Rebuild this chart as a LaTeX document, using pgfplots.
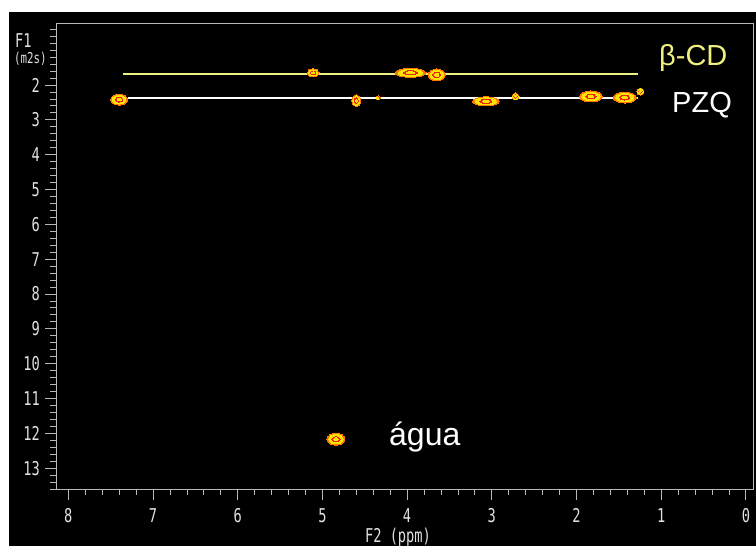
\documentclass[border=0pt]{standalone}
\usepackage{pgfplots}
\pgfplotsset{compat=1.18}
\usepackage{pgfplotstable}
\usepackage{fontspec}
\setmainfont{Liberation Sans}
\newfontfamily\tickfont[FakeStretch=0.72]{DejaVu Sans Mono}
\definecolor{framegray}{RGB}{185,185,185}
\definecolor{labgray}{RGB}{225,225,225}
\definecolor{cdyellow}{RGB}{240,240,130}
\definecolor{blobor}{RGB}{255,120,0}
\definecolor{bloby}{RGB}{255,228,0}
\definecolor{blobred}{RGB}{235,35,20}

\pgfplotstableread{
x y rx ry
7.40 2.42 8.5 5.5
4.60 2.45 4.5 6.0
4.34 2.37 2.0 2.0
3.07 2.47 13.5 4.5
2.72 2.33 3.5 3.5
1.83 2.33 11.5 5.5
1.43 2.36 11.5 5.5
1.245 2.19 3.5 3.5
5.11 1.65 6.0 4.0
3.96 1.65 15.5 4.5
3.65 1.71 8.5 6.0
4.84 12.17 9.0 6.0
}\blobs

\pgfplotsset{blob/.style 2 args={scatter, only marks, mark=*, mark size=#1,
  visualization depends on={\thisrow{rx} \as \blobrx},
  visualization depends on={\thisrow{ry} \as \blobry},
  mark options={line width=0pt},
  scatter/use mapped color={draw=#2, fill=#2},
  scatter/@pre marker code/.append style={/tikz/xscale=\blobrx,/tikz/yscale=\blobry}}}

\begin{document}
\begin{tikzpicture}
\fill[white] (0pt,0pt) rectangle (756pt,546pt);
\fill[black] (9pt,0pt) rectangle (756pt,534pt);
\begin{axis}[
 at={(56.5pt,57pt)}, anchor=south west, width=697pt, height=466pt, scale only axis,
 x dir=reverse, y dir=reverse,
 xmin=-0.09, xmax=8.14, ymin=0.22, ymax=13.6,
 axis line style={framegray, line width=0.8pt},
 every tick/.style={framegray, line width=0.8pt},
 tick align=outside, xtick pos=bottom, ytick pos=left,
 major tick length=11pt, minor tick length=6pt,
 xtick={0,...,8}, ytick={2,...,13},
 minor xtick={0,0.2,...,8.1},
 minor ytick={0.4,0.6,...,13.6},
 ticklabel style={font=\tickfont\fontsize{19}{19}\selectfont, text=labgray},
 xticklabel style={yshift=-5pt},
 yticklabel style={xshift=-2pt},
 /pgf/number format/assume math mode=true,
]
\addplot[blob={1pt}{blobor}] table {\blobs};
\addplot[blob={0.8pt}{bloby}] table {\blobs};
\addplot[blob={0.45pt}{blobred}] table {\blobs};
\addplot[blob={0.25pt}{bloby}] table {\blobs};
\addplot[cdyellow, line width=2pt] coordinates {(7.35,1.68) (1.27,1.68)};
\addplot[white, line width=2pt] coordinates {(7.30,2.37) (1.27,2.37)};
\end{axis}
\node[anchor=base west, text=cdyellow, font=\fontsize{29}{29}\selectfont, inner sep=0] at (659pt,480pt) {β-CD};
\node[anchor=base west, text=white, font=\fontsize{29}{29}\selectfont, inner sep=0] at (672pt,433pt) {PZQ};
\node[anchor=base west, text=white, font=\fontsize{32}{32}\selectfont, inner sep=0] at (389pt,100pt) {água};
\node[anchor=base west, text=labgray, font=\tickfont\fontsize{19}{19}\selectfont, inner sep=0] at (15pt,498pt) {F1};
\node[anchor=base west, text=labgray, font=\tickfont\fontsize{15}{15}\selectfont, inner sep=0] at (14pt,482pt) {(m2s)};
\node[anchor=center, text=labgray, font=\tickfont\fontsize{19}{19}\selectfont, inner sep=0] at (398pt,9pt) {F2 (ppm)};
\end{tikzpicture}
\end{document}
